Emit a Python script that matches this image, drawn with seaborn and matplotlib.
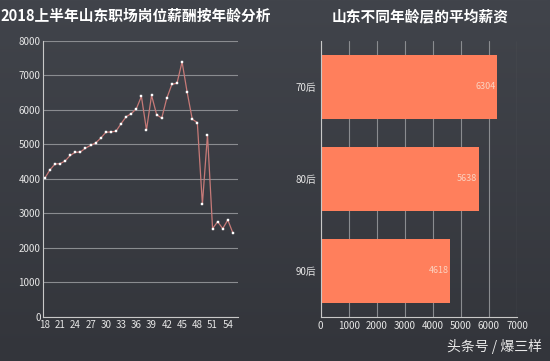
import numpy as np
import pandas as pd
import seaborn as sns
import matplotlib.pyplot as plt

ages = list(range(18, 56))
salary = [4020, 4260, 4430, 4440, 4520, 4680, 4770, 4780, 4890, 4970,
          5040, 5180, 5350, 5360, 5380, 5600, 5800, 5890, 6030, 6390,
          5420, 6420, 5860, 5760, 6340, 6740, 6770, 7390, 6510, 5730,
          5630, 3270, 5280, 2560, 2760, 2560, 2810, 2430]

groups = ['70后', '80后', '90后']
avg_pay = [6304, 5638, 4618]

xticks = list(range(18, 55, 3))

sns.set_style('dark')
plt.rcParams['font.family'] = ['Noto Sans CJK SC', 'DejaVu Sans']

bg = '#3a3d44'
txt = '#e6e6e6'
grid = '#8a8c90'

fig = plt.figure(figsize=(5.5, 3.61), dpi=100)
fig.patch.set_facecolor(bg)

# background gradient, lighter top-left
grad = np.linspace(0, 1, 256).reshape(-1, 1)
bax = fig.add_axes([0, 0, 1, 1], zorder=-10)
bax.imshow(grad, aspect='auto', cmap=plt.matplotlib.colors.LinearSegmentedColormap.from_list(
    'bg', ['#41444b', '#33353b']), extent=[0, 1, 0, 1])
bax.axis('off')

# left: line chart
ax1 = fig.add_axes([0.0787, 0.122, 0.354, 0.765])
df1 = pd.DataFrame({'age': ages, 'salary': salary})
sns.lineplot(data=df1, x='age', y='salary', ax=ax1, color='#c77a78', lw=0.9,
             marker='s', markersize=2.0, markerfacecolor='white',
             markeredgecolor='white', markeredgewidth=0.3)
ax1.set_facecolor('none')
ax1.set_xlim(17.7, 56)
ax1.set_ylim(0, 8000)
ax1.set_yticks(range(0, 8001, 1000))
ax1.set_xticks(xticks)
ax1.set_xlabel('')
ax1.set_ylabel('')
ax1.grid(axis='y', color=grid, lw=0.8)
ax1.grid(axis='x', visible=False)
for s in ['top', 'right']:
    ax1.spines[s].set_visible(False)
for s in ['left', 'bottom']:
    ax1.spines[s].set_color('#c8c8c8')
    ax1.spines[s].set_linewidth(0.8)
ax1.tick_params(colors=txt, labelsize=7, length=2, width=0.6, pad=2)
ax1.tick_params(axis='x', direction='in', length=3)
ax1.tick_params(axis='y', length=0)
fig.text(0.247, 0.955, '2018上半年山东职场岗位薪酬按年龄分析', color='white',
         fontsize=10.6, fontweight='bold', ha='center', va='center')

# right: bar chart
ax2 = fig.add_axes([0.583, 0.122, 0.357, 0.765])
df2 = pd.DataFrame({'group': groups, 'pay': avg_pay})
sns.barplot(data=df2, y='group', x='pay', ax=ax2, color='#ff7f5c',
            width=0.7, saturation=1, linewidth=0, edgecolor='none')
ax2.set_facecolor('none')
ax2.set_xlim(0, 7000)
ax2.set_ylim(2.5, -0.5)
ax2.set_xticks(range(0, 7001, 1000))
ax2.set_xlabel('')
ax2.set_ylabel('')
ax2.grid(axis='x', color=grid, lw=0.8)
ax2.grid(axis='y', visible=False)
ax2.set_axisbelow(True)
for s in ['top', 'right']:
    ax2.spines[s].set_visible(False)
for s in ['left', 'bottom']:
    ax2.spines[s].set_color('#c8c8c8')
    ax2.spines[s].set_linewidth(0.8)
ax2.tick_params(colors=txt, labelsize=7, length=0, pad=3)
for i, v in enumerate(avg_pay):
    ax2.text(v - 60, i, str(v), color='#fbd2c0', fontsize=6.5,
             ha='right', va='center')
fig.text(0.764, 0.955, '山东不同年龄层的平均薪资', color='white',
         fontsize=10.6, fontweight='bold', ha='center', va='center')

fig.text(0.985, 0.04, '头条号 / 爆三样', color='#e8e8e8', fontsize=10,
         ha='right', va='center')

fig.savefig('out.png', dpi=100, facecolor=fig.get_facecolor())
